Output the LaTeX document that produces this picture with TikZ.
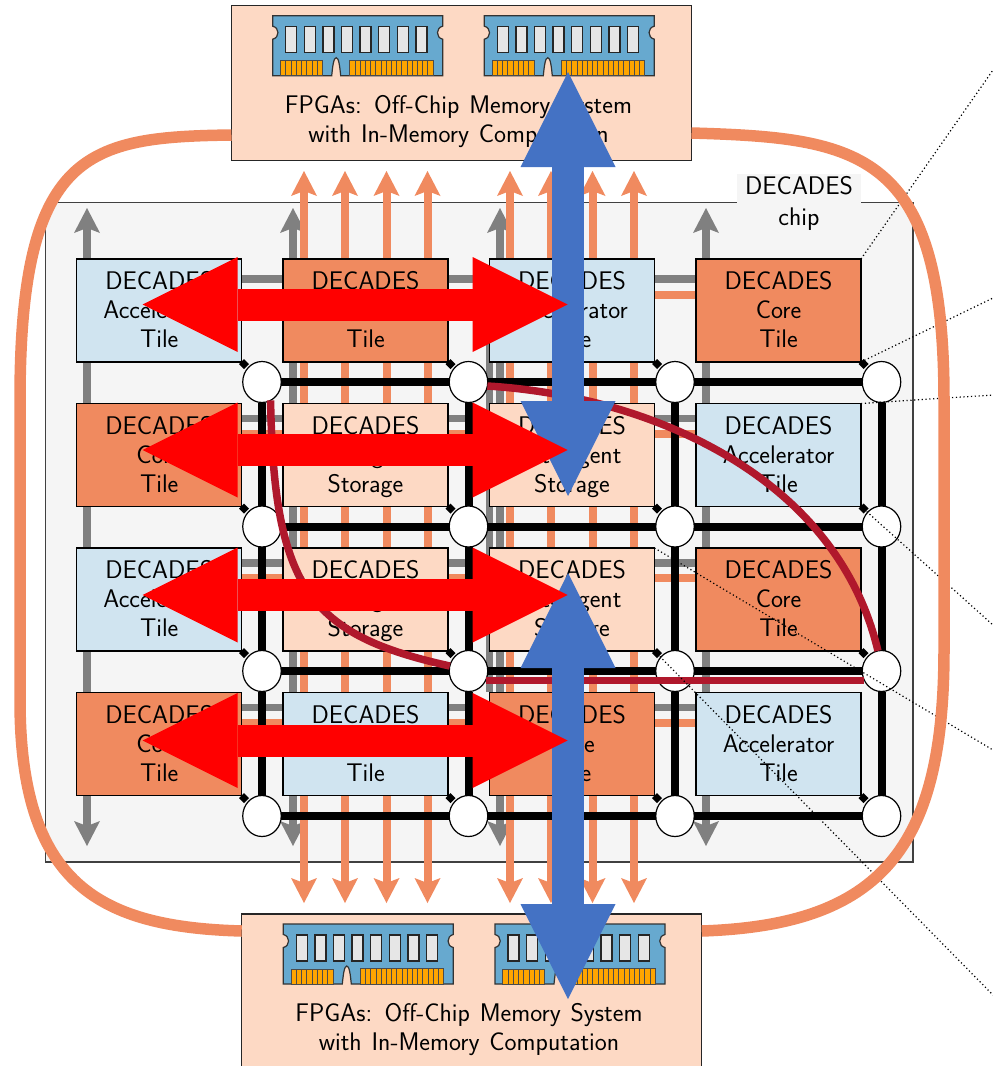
\documentclass[tikz,border=0pt]{standalone}
\usetikzlibrary{arrows.meta,shapes.geometric}
\definecolor{tileblue}{HTML}{D0E4F0}
\definecolor{tileorange}{HTML}{F08A5F}
\definecolor{tilepeach}{HTML}{FDD9C4}
\definecolor{chipbg}{HTML}{F5F5F5}
\definecolor{crim}{HTML}{B0182C}
\definecolor{bigblue}{HTML}{4472C4}
\definecolor{dimmblue}{HTML}{67A9CF}
\definecolor{contact}{HTML}{FFA500}
\definecolor{chipgrey}{HTML}{E6E6E6}
\newcommand{\tiletext}[2]{DECADES\rule{0pt}{25pt}\\#1\\#2\rule[-8.4pt]{0pt}{1pt}}
\tikzset{
  x=1pt,y=-1pt,
  every node/.style={font=\fontsize{25.5}{29}\selectfont\sffamily,align=center,inner sep=0pt,outer sep=0pt},
  tile/.style={draw=black,line width=1.2pt,minimum width=165pt,minimum height=103pt,anchor=north west},
  acc/.style={tile,fill=tileblue},
  core/.style={tile,fill=tileorange},
  stor/.style={tile,fill=tilepeach},
  router/.style={draw=black,line width=1.2pt,fill=white,ellipse,minimum width=38.5pt,minimum height=41pt},
  corner/.style={diamond,fill=black,minimum width=10pt,minimum height=10pt},
  meshline/.style={black,line width=8pt},
  smalltip/.tip={Stealth[length=25pt,width=26pt,inset=5pt,line width=0pt]},
  greyarrow/.style={draw=gray,line width=8pt,smalltip-smalltip},
  greyline/.style={draw=gray,line width=7.5pt},
  orangearrow/.style={draw=tileorange,line width=8pt,smalltip-smalltip},
  orangeline/.style={draw=tileorange,line width=7.5pt},
  bigtip/.tip={Triangle[length=95pt,width=95pt,line width=0pt]},
  bigarrow/.style={line width=32pt,bigtip-bigtip},
  crimline/.style={draw=crim,line width=7.5pt},
  callout/.style={draw=black,line width=1.2pt,dash pattern=on 1.2pt off 2.6pt},
  fpgabox/.style={draw=black!85,line width=1.2pt,fill=tilepeach,minimum width=460pt,minimum height=155pt,anchor=north west},
  dimm/.pic={
    \path[fill=dimmblue,draw=black!80,line width=1.2pt]
      (0,0) -- (170,0) -- (170,10.5) .. controls (163,12) and (163,22) .. (170,23.5)
      -- (170,60) -- (68,60) .. controls (67,50) and (66,42) .. (63.5,42)
      .. controls (61,42) and (60,50) .. (59,60)
      -- (0,60) -- (0,23.5) .. controls (7,22) and (7,12) .. (0,10.5) -- cycle;
    \foreach \i in {0,...,7}
      \path[fill=chipgrey,draw=black!85,line width=1.3pt] ({13+18.6*\i},11) rectangle ({24+18.6*\i},37);
    \path[fill=contact,draw=black!70,line width=.8pt] (7.7,45) rectangle (49.7,60);
    \path[fill=contact,draw=black!70,line width=.8pt] (77,44.5) rectangle (160.3,60);
    \foreach \i in {1,...,7}
      \draw[black!70,line width=.8pt] ({7.7+5.25*\i},45) -- ({7.7+5.25*\i},60);
    \foreach \i in {1,...,15}
      \draw[black!70,line width=.8pt] ({77+5.206*\i},44.5) -- ({77+5.206*\i},60);
  },
}
\begin{document}
\begin{tikzpicture}
\useasboundingbox (0,0) rectangle (993,1066);
% chip background
\path[fill=chipbg,draw=black!75,line width=1.2pt] (45.5,202.5) rectangle (913,862);
\node[fill=chipbg,minimum width=124pt,minimum height=59pt,font=\fontsize{25.5}{31}\selectfont\sffamily] (chiplabel) at (799,203.5) {DECADES\\chip};
% coordinates of free ends
\foreach \n/\x in {a/87,b/293,c/500,d/706}{
  \coordinate (gt\n) at (\x,208);
  \coordinate (gb\n) at (\x,846);
  \draw[greyarrow] (gt\n) -- (gb\n);
}
\coordinate (gx1) at (489.5,300);
\coordinate (gx2) at (489.5,692);
\draw[greyline] (gx1) -- (gx2);
\foreach \n/\x in {a/304,b/345,c/386.5,d/427.5,e/510,f/551,g/592.5,h/634}{
  \coordinate (ot\n) at (\x,171);
  \coordinate (ob\n) at (\x,903);
  \draw[orangearrow] (ot\n) -- (ob\n);
}
% horizontal buses
\foreach \r/\yg/\yo in {1/279/295,2/418.5/434,3/563/578,4/707.5/723}{
  \coordinate (gl\r) at (100,\yg);
  \coordinate (gr\r) at (800,\yg);
  \coordinate (ol\r) at (100,\yo);
  \coordinate (or\r) at (800,\yo);
  \draw[greyline] (gl\r) -- (gr\r);
  \draw[orangeline] (ol\r) -- (or\r);
}
% tiles
\foreach \r/\y in {1/259,2/403.5,3/548,4/692.5}{
  \foreach \c/\x in {1/76.7,2/283,3/489.5,4/696}{
    \coordinate (p\r\c) at (\x,\y);
  }
}
\node[acc]  (t11) at (p11) {\tiletext{Accelerator}{Tile}};
\node[core] (t12) at (p12) {\tiletext{Core}{Tile}};
\node[acc]  (t13) at (p13) {\tiletext{Accelerator}{Tile}};
\node[core] (t14) at (p14) {\tiletext{Core}{Tile}};
\node[core] (t21) at (p21) {\tiletext{Core}{Tile}};
\node[stor] (t22) at (p22) {\tiletext{Intelligent}{Storage}};
\node[stor] (t23) at (p23) {\tiletext{Intelligent}{Storage}};
\node[acc]  (t24) at (p24) {\tiletext{Accelerator}{Tile}};
\node[acc]  (t31) at (p31) {\tiletext{Accelerator}{Tile}};
\node[stor] (t32) at (p32) {\tiletext{Intelligent}{Storage}};
\node[stor] (t33) at (p33) {\tiletext{Intelligent}{Storage}};
\node[core] (t34) at (p34) {\tiletext{Core}{Tile}};
\node[core] (t41) at (p41) {\tiletext{Core}{Tile}};
\node[acc]  (t42) at (p42) {\tiletext{Accelerator}{Tile}};
\node[core] (t43) at (p43) {\tiletext{Core}{Tile}};
\node[acc]  (t44) at (p44) {\tiletext{Accelerator}{Tile}};
% routers
\foreach \r/\y in {1/382,2/526.5,3/671,4/816}{
  \foreach \c/\x in {1/262,2/468.5,3/675,4/881.5}{
    \node[router] (r\r\c) at (\x,\y) {};
    \node[corner] (d\r\c) at (\x-18,\y-18) {};
  }
}
% mesh
\foreach \r in {1,2,3,4}{
  \draw[meshline] (r\r1) -- (r\r2);
  \draw[meshline] (r\r2) -- (r\r3);
  \draw[meshline] (r\r3) -- (r\r4);
}
\foreach \c in {1,2,3,4}{
  \draw[meshline] (r1\c) -- (r2\c);
  \draw[meshline] (r2\c) -- (r3\c);
  \draw[meshline] (r3\c) -- (r4\c);
}
% express links
\draw[crimline] (r11.-65) .. controls (274,590) and (310,635) .. (r32.165);
\draw[crimline] (r12.-12) .. controls (640,395) and (835,470) .. (r34.100);
\draw[crimline] (r32.-29) -- (r34.-151);
% callouts
\coordinate (c1) at (993,70);
\coordinate (c2) at (993,298);
\coordinate (c3) at (993,395);
\coordinate (c4) at (993,625);
\coordinate (c5) at (993,750);
\coordinate (c6) at (993,995);
\draw[callout] (t14.north east) -- (c1);
\draw[callout] (t14.south east) -- (c2);
\draw[callout] (t24.north east) -- (c3);
\draw[callout] (t24.south east) -- (c4);
\draw[callout] (t33.north east) -- (c5);
\draw[callout] (t33.south east) -- (c6);
% FPGA boxes
\node[fpgabox] (top) at (231.5,5.5) {};
\node[fpgabox] (bot) at (241.7,914) {};
\draw[draw=tileorange,line width=11.5pt]
  (top.west |- 0,135) .. controls (88,137) and (20,150) .. (20,400)
  -- (20,700) .. controls (20,885) and (100,927) .. (bot.west |- 0,931);
\draw[draw=tileorange,line width=11.5pt]
  (top.east |- 0,133) .. controls (860,138) and (944,150) .. (944,400)
  -- (944,650) .. controls (944,850) and (880,925) .. (bot.east |- 0,931);
\node (toptext) at (458.5,122) {\spaceskip=9.8pt FPGAs: Off-Chip Memory System\\\spaceskip=9.8pt with In-Memory Computation};
\node (bottext) at (469,1030) {\spaceskip=9.8pt FPGAs: Off-Chip Memory System\\\spaceskip=9.8pt with In-Memory Computation};
\pic at (272.7,15.7) {dimm};
\pic at (484.3,15.7) {dimm};
\pic at (283.3,924) {dimm};
\pic at (495,924) {dimm};
% big arrows
\coordinate (b1t) at (568,72);
\coordinate (b1b) at (568,496);
\coordinate (b2t) at (568,573);
\coordinate (b2b) at (568,999);
\draw[bigarrow,draw=bigblue] (b1t) -- (b1b);
\draw[bigarrow,draw=bigblue] (b2t) -- (b2b);
\foreach \r/\y in {1/304.5,2/450,3/595,4/740.5}{
  \coordinate (bl\r) at (142.7,\y);
  \coordinate (br\r) at (567.7,\y);
  \draw[bigarrow,draw=red] (bl\r) -- (br\r);
}
\end{tikzpicture}
\end{document}
